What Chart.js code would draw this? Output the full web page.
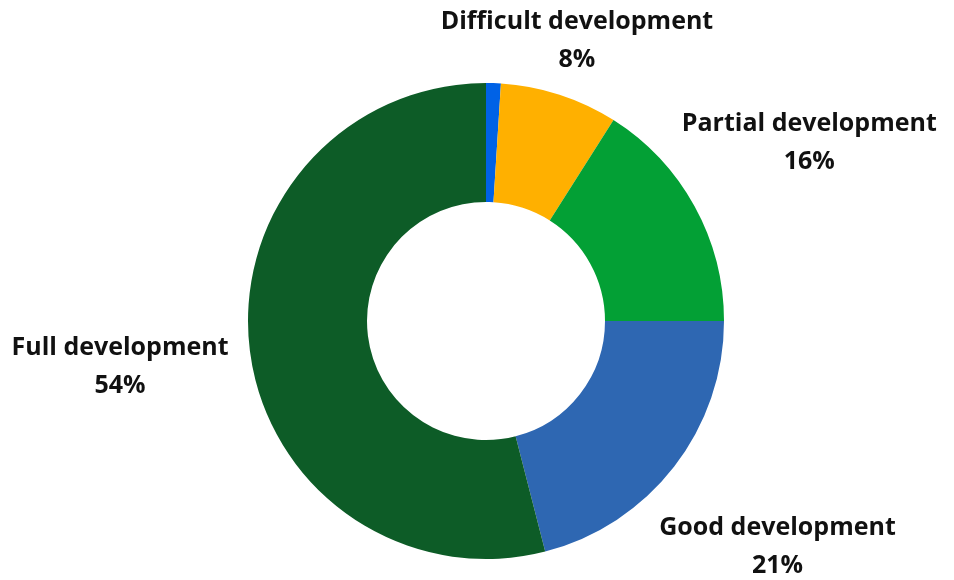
<!DOCTYPE html>
<html>
<head>
<meta charset="utf-8">
<script src="https://cdn.jsdelivr.net/npm/chart.js@4"></script>
<style>
  html, body { margin: 0; padding: 0; background: #ffffff; }
  #wrap { width: 954px; height: 580px; }
</style>
</head>
<body>
<div id="wrap"><canvas id="chart" width="954" height="580"></canvas></div>
<script>
// Development levels, clockwise from 12 o'clock
const categories = ['No development', 'Difficult development', 'Partial development', 'Good development', 'Full development'];
const shares = [1, 8, 16, 21, 54];
const sliceColors = ['#0062E6', '#FFB000', '#03A035', '#2E67B2', '#0D5C27'];
// Slices below this share are left without a caption
const minLabelShare = 2;

const outsideLabels = {
  id: 'outsideLabels',
  afterDatasetsDraw(chart) {
    const ctx = chart.ctx;
    const meta = chart.getDatasetMeta(0);
    const data = chart.data.datasets[0].data;
    const labels = chart.data.labels;
    const minY = 41;
    ctx.save();
    ctx.fillStyle = '#111111';
    ctx.font = 'bold 25px "Open Sans", "DejaVu Sans", sans-serif';
    ctx.textAlign = 'center';
    ctx.textBaseline = 'middle';
    meta.data.forEach((arc, i) => {
      if (data[i] < minLabelShare) return;
      const p = arc.getProps(['x', 'y', 'startAngle', 'endAngle', 'outerRadius'], true);
      const a = (p.startAngle + p.endAngle) / 2;
      const R = p.outerRadius * 1.55;
      let x = p.x + Math.cos(a) * R;
      let y = p.y + Math.sin(a) * R;
      if (y < minY) {
        // slide back along the same ray until the caption fits
        const t = (minY - p.y) / Math.sin(a);
        x = p.x + Math.cos(a) * t;
        y = minY;
      }
      ctx.fillText(labels[i], x, y - 19);
      ctx.fillText(data[i] + '%', x, y + 19);
    });
    ctx.restore();
  }
};

new Chart(document.getElementById('chart'), {
  type: 'doughnut',
  data: {
    labels: categories,
    datasets: [{
      data: shares,
      backgroundColor: sliceColors,
      borderWidth: 0
    }]
  },
  options: {
    responsive: false,
    animation: false,
    cutout: '50%',
    layout: { padding: { top: 83, bottom: 21, left: 248, right: 230 } },
    plugins: {
      legend: { display: false },
      tooltip: { enabled: false }
    }
  },
  plugins: [outsideLabels]
});
</script>
</body>
</html>
